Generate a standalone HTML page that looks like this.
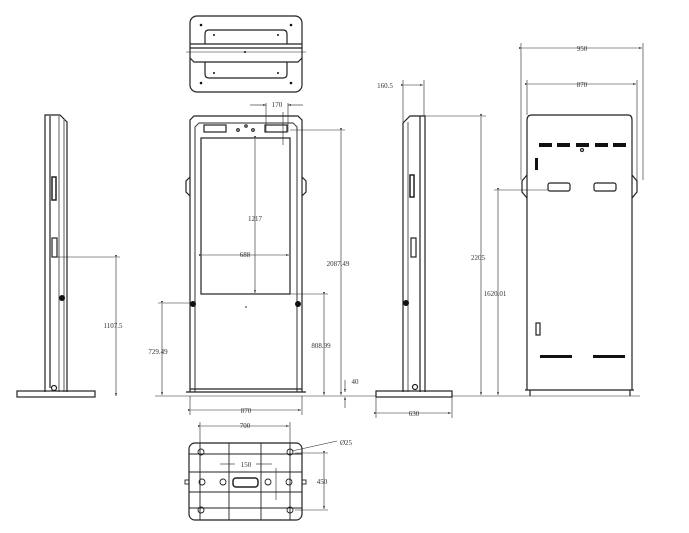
<!DOCTYPE html>
<html><head><meta charset="utf-8"><style>
html,body{margin:0;padding:0;background:#fff;width:689px;height:533px;overflow:hidden}
svg{display:block}
text{font-family:"Liberation Serif",serif;font-size:7px;fill:#333}
</style></head><body>
<svg width="689" height="533" viewBox="0 0 689 533" xmlns="http://www.w3.org/2000/svg">
<defs>
<marker id="a" markerWidth="6" markerHeight="6" refX="5" refY="3" orient="auto"><path d="M0,1.5 L5,3 L0,4.5z" fill="#222"/></marker>
</defs>
<g fill="none" stroke="#222" stroke-width="1.2">
<!-- LEFT SIDE VIEW -->
<path d="M45,392 V115 H60 L67,122 V392"/>
<line x1="50" y1="116" x2="50" y2="388"/>
<line x1="59" y1="116" x2="59" y2="392" stroke="#777"/>
<line x1="64" y1="119" x2="64" y2="392" stroke="#777"/>
<rect x="17" y="391" width="78" height="6"/>
<rect x="52" y="177" width="4" height="23" stroke-width="1.5"/>
<rect x="52" y="238" width="5" height="19"/>
<circle cx="54" cy="388" r="2.5"/>
<line x1="57" y1="257" x2="120" y2="257" stroke-width="0.6"/>
<line x1="116" y1="258" x2="116" y2="396" stroke-width="0.6" marker-start="url(#a)" marker-end="url(#a)"/>

<!-- TOP PLATE VIEW -->
<rect x="190" y="16" width="112" height="76" rx="7"/>
<path d="M205,44 V34 Q205,30 209,30 H283 Q287,30 287,34 V44"/>
<path d="M205,62 V74 Q205,78 209,78 H283 Q287,78 287,74 V62"/>
<line x1="190" y1="44" x2="302" y2="44"/>
<line x1="190" y1="48" x2="302" y2="48"/>
<path d="M190,58 L194,62 H298 L302,58"/>
<line x1="186" y1="52" x2="306" y2="52" stroke-width="0.6"/>

<!-- FRONT VIEW -->
<path d="M190,392 V120 L194,116 H298 L302,120 V392"/>
<path d="M195,392 V127 L199,123 H293 L297,127 V392" stroke="#555"/>
<rect x="201" y="138" width="89" height="156"/>
<rect x="204" y="125" width="22" height="7"/>
<rect x="265" y="125" width="22" height="7"/>
<circle cx="238" cy="130" r="1.3"/><circle cx="253" cy="130" r="1.3"/><circle cx="246" cy="126" r="1.2"/>
<path d="M190,177 L186,181 V192 L190,196"/>
<path d="M302,177 L306,181 V192 L302,196"/>
<line x1="186" y1="392" x2="306" y2="392"/>
<line x1="190" y1="389" x2="302" y2="389"/>
<g stroke-width="0.6">
<line x1="266" y1="103" x2="266" y2="132"/><line x1="288" y1="103" x2="288" y2="132"/>
<line x1="250" y1="105" x2="266" y2="105" marker-end="url(#a)"/>
<line x1="303" y1="105" x2="288" y2="105" marker-end="url(#a)"/>
<line x1="283" y1="112" x2="283" y2="145"/>
<line x1="290" y1="130" x2="345" y2="130"/>
<line x1="255" y1="139" x2="255" y2="293" marker-start="url(#a)" marker-end="url(#a)"/>
<line x1="202" y1="255" x2="289" y2="255" marker-start="url(#a)" marker-end="url(#a)"/>
<line x1="341" y1="131" x2="341" y2="395" marker-start="url(#a)" marker-end="url(#a)"/>
<line x1="158" y1="303" x2="190" y2="303"/>
<line x1="162" y1="304" x2="162" y2="395" marker-start="url(#a)" marker-end="url(#a)"/>
<line x1="290" y1="294" x2="328" y2="294"/>
<line x1="324" y1="295" x2="324" y2="395" marker-start="url(#a)" marker-end="url(#a)"/>
<line x1="155" y1="396" x2="376" y2="396"/>
<line x1="345" y1="380" x2="345" y2="392" marker-end="url(#a)"/>
<line x1="345" y1="408" x2="345" y2="397" marker-end="url(#a)"/>
<line x1="190" y1="396" x2="190" y2="415"/><line x1="302" y1="396" x2="302" y2="415"/>
<line x1="191" y1="410" x2="301" y2="410" marker-start="url(#a)" marker-end="url(#a)"/>
</g>

<!-- BOTTOM VIEW -->
<rect x="189" y="443" width="113" height="77" rx="6"/>
<g stroke-width="0.9">
<line x1="189" y1="454" x2="302" y2="454"/><line x1="189" y1="472" x2="302" y2="472"/>
<line x1="189" y1="492" x2="302" y2="492"/><line x1="189" y1="508" x2="302" y2="508"/>
<line x1="200" y1="443" x2="200" y2="520"/><line x1="229" y1="443" x2="229" y2="520"/>
<line x1="261" y1="443" x2="261" y2="520"/><line x1="290" y1="443" x2="290" y2="520"/>
<circle cx="201" cy="452" r="3"/><circle cx="290" cy="452" r="3"/>
<circle cx="201" cy="510" r="3"/><circle cx="290" cy="510" r="3"/>
<circle cx="202" cy="482" r="3"/><circle cx="223" cy="482" r="3"/><circle cx="268" cy="482" r="3"/><circle cx="289" cy="482" r="3"/>
<rect x="233" y="478" width="25" height="9" rx="3" stroke-width="1.5"/>
<rect x="185" y="480" width="4" height="4"/><rect x="302" y="480" width="4" height="4"/>
</g>
<g stroke-width="0.6">
<line x1="200" y1="422" x2="200" y2="443"/><line x1="290" y1="422" x2="290" y2="443"/>
<line x1="201" y1="426" x2="289" y2="426" marker-start="url(#a)" marker-end="url(#a)"/>
<line x1="292" y1="451" x2="337" y2="441"/>
<line x1="295" y1="453" x2="328" y2="453"/><line x1="295" y1="510" x2="328" y2="510"/>
<line x1="324" y1="454" x2="324" y2="509" marker-start="url(#a)" marker-end="url(#a)"/>
<line x1="220" y1="464" x2="235" y2="464"/><line x1="256" y1="464" x2="272" y2="464"/>
<line x1="276" y1="468" x2="276" y2="500"/>
</g>

<!-- RIGHT SIDE VIEW -->
<path d="M403,392 V123 L410,116 H425 V392"/>
<line x1="408" y1="122" x2="408" y2="392" stroke="#777"/>
<line x1="420" y1="116" x2="420" y2="392"/>
<rect x="376" y="391" width="76" height="6"/>
<rect x="410" y="175" width="4" height="22" stroke-width="1.5"/>
<rect x="411" y="238" width="5" height="19"/>
<circle cx="415" cy="387" r="2.5"/>
<g stroke-width="0.6">
<line x1="403" y1="80" x2="403" y2="122"/><line x1="424" y1="80" x2="424" y2="116"/>
<line x1="404" y1="85" x2="423" y2="85" marker-start="url(#a)" marker-end="url(#a)"/>
<line x1="425" y1="116" x2="486" y2="116"/>
<line x1="481" y1="117" x2="481" y2="395" marker-start="url(#a)" marker-end="url(#a)"/>
<line x1="452" y1="396" x2="640" y2="396"/>
<line x1="376" y1="397" x2="376" y2="418"/><line x1="452" y1="397" x2="452" y2="418"/>
<line x1="377" y1="413" x2="451" y2="413" marker-start="url(#a)" marker-end="url(#a)"/>
<line x1="498" y1="191" x2="498" y2="395" marker-start="url(#a)" marker-end="url(#a)"/>
<line x1="494" y1="190" x2="548" y2="190"/>
</g>

<!-- BACK VIEW -->
<path d="M527,390 V120 Q527,115 532,115 H628 Q632,115 632,120 V390"/>
<path d="M527,175 L522,181 V192 L527,198"/>
<path d="M632,175 L637,181 V192 L632,198"/>
<line x1="525" y1="390" x2="634" y2="390"/>
<line x1="530" y1="390" x2="530" y2="396"/><line x1="630" y1="390" x2="630" y2="396"/>
<rect x="548" y="183" width="22" height="8" rx="2"/>
<rect x="594" y="183" width="22" height="8" rx="2"/>
<rect x="536" y="323" width="4" height="12"/>
<circle cx="582" cy="150" r="1.5"/>
<g stroke-width="0.6">
<line x1="521" y1="43" x2="521" y2="180"/><line x1="643" y1="43" x2="643" y2="180"/>
<line x1="522" y1="48" x2="642" y2="48" marker-start="url(#a)" marker-end="url(#a)"/>
<line x1="527" y1="80" x2="527" y2="115"/><line x1="637" y1="80" x2="637" y2="180"/>
<line x1="528" y1="84" x2="636" y2="84" marker-start="url(#a)" marker-end="url(#a)"/>
</g>
</g>
<g fill="#111">
<rect x="539" y="143" width="13" height="4"/><rect x="557" y="143" width="13" height="4"/>
<rect x="576" y="143" width="13" height="4"/><rect x="595" y="143" width="13" height="4"/>
<rect x="613" y="143" width="13" height="4"/>
<rect x="535" y="158" width="3" height="12"/>
<rect x="540" y="355" width="32" height="3"/><rect x="593" y="355" width="32" height="3"/>
<circle cx="62" cy="298" r="3"/><circle cx="193" cy="304" r="3"/><circle cx="298" cy="304" r="3"/>
<circle cx="406" cy="303" r="3"/>
<circle cx="246" cy="307" r="0.8"/><circle cx="245" cy="52" r="1"/>
<circle cx="201" cy="25" r="1.3"/><circle cx="291" cy="25" r="1.3"/><circle cx="201" cy="83" r="1.3"/><circle cx="291" cy="83" r="1.3"/>
<circle cx="214" cy="35" r="1"/><circle cx="278" cy="35" r="1"/><circle cx="214" cy="73" r="1"/><circle cx="278" cy="73" r="1"/>
</g>
<g text-anchor="middle">
<text x="113" y="328">1107.5</text>
<text x="277" y="107">170</text>
<text x="255" y="221">1217</text>
<text x="245" y="257">688</text>
<text x="338" y="266">2087.49</text>
<text x="158" y="354">729.49</text>
<text x="321" y="348">808.99</text>
<text x="355" y="384">40</text>
<text x="246" y="413">870</text>
<text x="245" y="428">700</text>
<text x="346" y="445">Ø25</text>
<text x="246" y="467">150</text>
<text x="322" y="484">450</text>
<text x="385" y="88">160.5</text>
<text x="478" y="260">2205</text>
<text x="414" y="416">630</text>
<text x="495" y="296">1620.01</text>
<text x="582" y="51">950</text>
<text x="582" y="87">870</text>
</g>
</svg>
</body></html>
